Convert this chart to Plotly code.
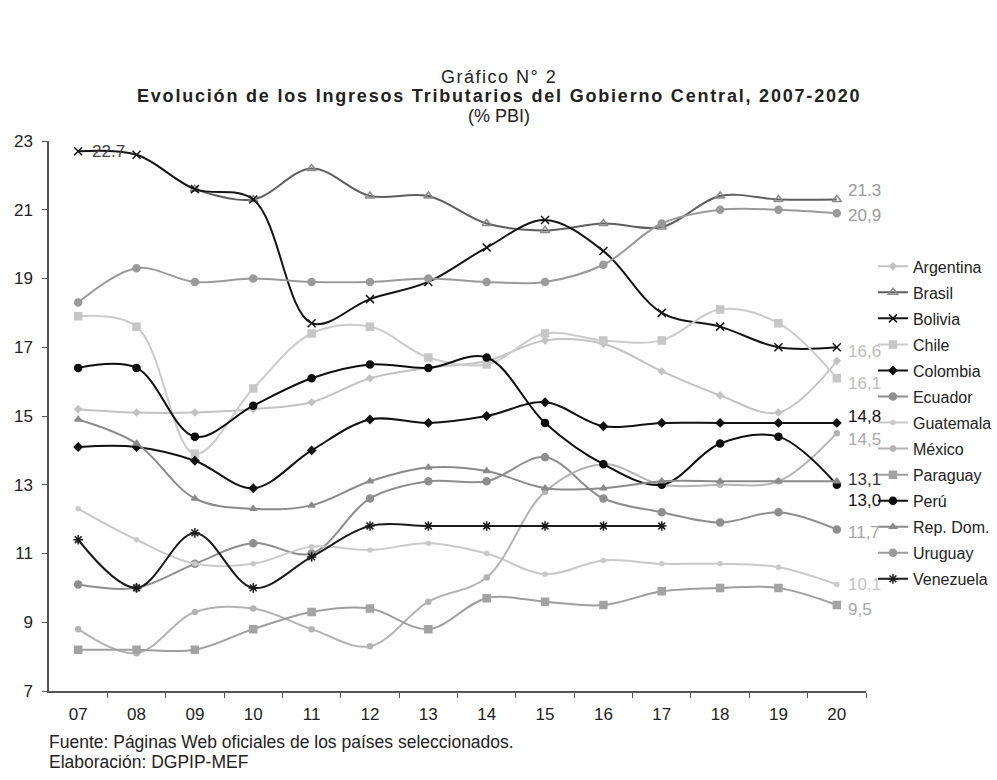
import plotly.graph_objects as go

# Years and axis labels
years = list(range(2007, 2021))
year_labels = ["07", "08", "09", "10", "11", "12", "13", "14", "15", "16", "17", "18", "19", "20"]
y_ticks = [7, 9, 11, 13, 15, 17, 19, 21, 23]

# Tax revenue of the central government, % of GDP
argentina = [15.2, 15.1, 15.1, 15.2, 15.4, 16.1, 16.4, 16.6, 17.2, 17.1, 16.3, 15.6, 15.1, 16.6]
brasil = [None, None, 21.6, 21.3, 22.2, 21.4, 21.4, 20.6, 20.4, 20.6, 20.5, 21.4, 21.3, 21.3]
bolivia = [22.7, 22.6, 21.6, 21.3, 17.7, 18.4, 18.9, 19.9, 20.7, 19.8, 18.0, 17.6, 17.0, 17.0]
chile = [17.9, 17.6, 13.9, 15.8, 17.4, 17.6, 16.7, 16.5, 17.4, 17.2, 17.2, 18.1, 17.7, 16.1]
colombia = [14.1, 14.1, 13.7, 12.9, 14.0, 14.9, 14.8, 15.0, 15.4, 14.7, 14.8, 14.8, 14.8, 14.8]
ecuador = [10.1, 10.0, 10.7, 11.3, 11.0, 12.6, 13.1, 13.1, 13.8, 12.6, 12.2, 11.9, 12.2, 11.7]
guatemala = [12.3, 11.4, 10.7, 10.7, 11.2, 11.1, 11.3, 11.0, 10.4, 10.8, 10.7, 10.7, 10.6, 10.1]
mexico = [8.8, 8.1, 9.3, 9.4, 8.8, 8.3, 9.6, 10.3, 12.8, 13.6, 13.0, 13.0, 13.1, 14.5]
paraguay = [8.2, 8.2, 8.2, 8.8, 9.3, 9.4, 8.8, 9.7, 9.6, 9.5, 9.9, 10.0, 10.0, 9.5]
peru = [16.4, 16.4, 14.4, 15.3, 16.1, 16.5, 16.4, 16.7, 14.8, 13.6, 13.0, 14.2, 14.4, 13.0]
rep_dom = [14.9, 14.2, 12.6, 12.3, 12.4, 13.1, 13.5, 13.4, 12.9, 12.9, 13.1, 13.1, 13.1, 13.1]
uruguay = [18.3, 19.3, 18.9, 19.0, 18.9, 18.9, 19.0, 18.9, 18.9, 19.4, 20.6, 21.0, 21.0, 20.9]
venezuela = [11.4, 10.0, 11.6, 10.0, 10.9, 11.8, 11.8, 11.8, 11.8, 11.8, 11.8, None, None, None]

FONT = "Liberation Sans, Arial, sans-serif"

# name, values, line colour, marker symbol, marker size, marker colour
series = [
    ("Argentina", argentina, "#c2c2c2", "diamond", 5, "#c2c2c2"),
    ("Brasil", brasil, "#5e5e5e", "triangle-up-open", 8, "#8a8a8a"),
    ("Bolivia", bolivia, "#141414", "x-thin-open", 8, "#141414"),
    ("Chile", chile, "#cbcbcb", "square", 7, "#c6c6c6"),
    ("Colombia", colombia, "#111111", "diamond", 6, "#111111"),
    ("Ecuador", ecuador, "#8e8e8e", "circle", 7, "#8e8e8e"),
    ("Guatemala", guatemala, "#c9c9c9", "circle", 4, "#c9c9c9"),
    ("México", mexico, "#b3b3b3", "circle", 5, "#b3b3b3"),
    ("Paraguay", paraguay, "#9e9e9e", "square", 7, "#a3a3a3"),
    ("Perú", peru, "#0d0d0d", "circle", 7, "#0d0d0d"),
    ("Rep. Dom.", rep_dom, "#8a8a8a", "triangle-up", 6, "#8a8a8a"),
    ("Uruguay", uruguay, "#9a9a9a", "circle", 7, "#9a9a9a"),
    ("Venezuela", venezuela, "#1a1a1a", "asterisk-open", 8, "#1a1a1a"),
]

fig = go.Figure()
for name, vals, lc, sym, ms, mc in series:
    fig.add_trace(go.Scatter(
        x=years, y=vals, name=name, mode="lines+markers",
        legendgroup=name,
        line=dict(color=lc, width=2, shape="spline", smoothing=1.0),
        marker=dict(symbol=sym, size=ms, color=mc, line=dict(color=mc, width=1.5)),
        connectgaps=False,
    ))

# Value labels: (series values, index, decimal separator, colour, xshift, yshift)
value_labels = [
    (bolivia, 0, ".", "#444444", 12, 0),
    (brasil, -1, ".", "#9a9a9a", 9, 9),
    (uruguay, -1, ",", "#9a9a9a", 9, -2),
    (argentina, -1, ",", "#bdbdbd", 9, 10),
    (chile, -1, ",", "#bdbdbd", 9, -5),
    (colombia, -1, ",", "#111111", 9, 6),
    (mexico, -1, ",", "#a8a8a8", 9, -6),
    (rep_dom, -1, ",", "#333333", 9, 2),
    (peru, -1, ",", "#111111", 9, -16),
    (ecuador, -1, ",", "#a6a6a6", 9, -3),
    (guatemala, -1, ",", "#c4c4c4", 9, 0),
    (paraguay, -1, ",", "#a6a6a6", 9, -4),
]
for vals, idx, sep, col, xs, ys in value_labels:
    v = vals[idx]
    fig.add_annotation(
        x=years[idx], y=v, text=f"{v:.1f}".replace(".", sep),
        showarrow=False, xanchor="left", yanchor="middle",
        xshift=xs, yshift=ys,
        font=dict(family=FONT, size=17, color=col),
    )

# Title block, one annotation per line: (text, bold, letter spacing px, y)
title_lines = [
    ("Gráfico N° 2", False, 1.5, 1.1164),
    ("Evolución de los Ingresos Tributarios del Gobierno Central, 2007-2020", True, 1.8, 1.0818),
    ("(% PBI)", False, 0, 1.0455),
]
for txt, bold, ls, ypos in title_lines:
    body = f"<b>{txt}</b>" if bold else txt
    fig.add_annotation(
        xref="paper", yref="paper", x=0.5502, y=ypos,
        xanchor="center", yanchor="middle", showarrow=False,
        text=f"<span style='letter-spacing:{ls}px'>{body}</span>",
        font=dict(family=FONT, size=18, color="#222222"),
    )

# Source notes
notes = [
    ("Fuente: Páginas Web oficiales de los países seleccionados.", -0.0927),
    ("Elaboración: DGPIP-MEF", -0.1291),
]
for txt, ypos in notes:
    fig.add_annotation(
        xref="paper", yref="paper", x=-0.0024, y=ypos,
        xanchor="left", yanchor="middle", showarrow=False, text=txt,
        font=dict(family=FONT, size=17.5, color="#222222"),
    )

fig.update_layout(
    width=997, height=780,
    margin=dict(l=49, r=131, t=141, b=89, autoexpand=False),
    paper_bgcolor="white", plot_bgcolor="white",
    font=dict(family=FONT, size=17, color="#222222"),
    legend=dict(
        x=1.0085, y=0.803, xanchor="left", yanchor="top",
        font=dict(family=FONT, size=16, color="#222222"),
        tracegroupgap=2.25, bgcolor="rgba(0,0,0,0)",
    ),
    showlegend=True,
)

fig.update_xaxes(
    range=[2006.5, 2020.5], tickmode="array", tickvals=years, ticktext=year_labels,
    ticks="", showgrid=False, zeroline=False,
    showline=True, linecolor="#555555", linewidth=1.5,
    ticklabelstandoff=7,
    minor=dict(tickmode="array", tickvals=[y + 0.5 for y in years], ticks="outside",
               ticklen=5, tickcolor="#555555", showgrid=False),
)
fig.update_yaxes(
    range=[7, 23], tickmode="array", tickvals=y_ticks,
    ticks="outside", ticklen=5, tickcolor="#555555",
    ticklabelstandoff=6,
    showgrid=False, zeroline=False,
    showline=True, linecolor="#555555", linewidth=1.5,
)

fig.write_html("out.html")
